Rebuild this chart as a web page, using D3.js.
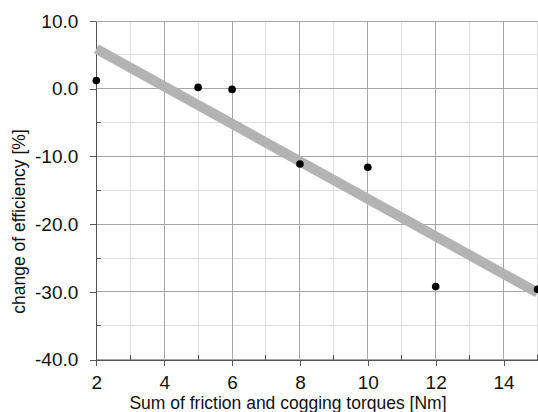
<!DOCTYPE html>
<html><head><meta charset="utf-8">
<script src="https://cdn.jsdelivr.net/npm/d3@7"></script>
<style>body{margin:0;background:#fff}svg{display:block}text{font-family:"Liberation Sans",Arial,sans-serif;fill:#111}</style>
</head><body><svg id="c" width="538" height="412"></svg>
<script>
const torque = [2, 5, 6, 8, 10, 12, 15];
const effChange = [1.2, 0.2, -0.1, -11.1, -11.6, -29.2, -29.6];
const trendX = [2, 15];
const trendY = [5.9, -30.1];
const xTicks = [2, 4, 6, 8, 10, 12, 14];
const xMinor = [3, 5, 7, 9, 11, 13, 15];
const yTicks = [10, 0, -10, -20, -30, -40];
const yMinor = [5, -5, -15, -25, -35];
const xTitle = "Sum of friction and cogging torques [Nm]";
const yTitle = "change of efficiency [%]";

const svg = d3.select("#c");
const L = 96.3, R = 537.5, T = 21, B = 359.7;
const x = d3.scaleLinear().domain([2, 15]).range([L, R]);
const y = d3.scaleLinear().domain([-40, 10]).range([B, T]);

const g = svg.append("g");
// minor grid
g.selectAll(".xm").data(xMinor).join("line")
  .attr("x1", d => x(d)).attr("x2", d => x(d)).attr("y1", T).attr("y2", B)
  .attr("stroke", "#dedede").attr("shape-rendering", "crispEdges");
g.selectAll(".ym").data(yMinor).join("line")
  .attr("x1", L).attr("x2", R).attr("y1", d => y(d)).attr("y2", d => y(d))
  .attr("stroke", "#dedede").attr("shape-rendering", "crispEdges");
// major grid
g.selectAll(".xg").data(xTicks).join("line")
  .attr("x1", d => x(d)).attr("x2", d => x(d)).attr("y1", T).attr("y2", B)
  .attr("stroke", "#a6a6a6").attr("shape-rendering", "crispEdges");
g.selectAll(".yg").data(yTicks).join("line")
  .attr("x1", L).attr("x2", R).attr("y1", d => y(d)).attr("y2", d => y(d))
  .attr("stroke", "#a6a6a6").attr("shape-rendering", "crispEdges");

// axes
const fmtY = d => d3.format(".1f")(d).replace("\u2212", "-");
const xAxis = d3.axisBottom(x).tickValues(xTicks).tickSize(6).tickSizeOuter(0).tickPadding(10).tickFormat(d3.format("d"));
const xa = svg.append("g").attr("transform", `translate(0,${B})`).call(xAxis);
const yAxis = d3.axisLeft(y).tickValues(yTicks).tickSize(6).tickSizeOuter(0).tickPadding(12).tickFormat(fmtY);
const ya = svg.append("g").attr("transform", `translate(${L},0)`).call(yAxis);
[xa, ya].forEach(a => {
  a.select(".domain").attr("stroke", "#555").attr("shape-rendering", "crispEdges");
  a.selectAll(".tick line").attr("stroke", "#555").attr("shape-rendering", "crispEdges");
  a.selectAll(".tick text").attr("font-size", 19).attr("fill", "#111")
    .attr("font-family", '"Liberation Sans",Arial,sans-serif');
});
// minor ticks inward
svg.append("g").selectAll("line").data(xMinor).join("line")
  .attr("x1", d => x(d)).attr("x2", d => x(d)).attr("y1", B).attr("y2", B - 5)
  .attr("stroke", "#555").attr("shape-rendering", "crispEdges");
svg.append("g").selectAll("line").data(yMinor).join("line")
  .attr("x1", L).attr("x2", L + 5).attr("y1", d => y(d)).attr("y2", d => y(d))
  .attr("stroke", "#555").attr("shape-rendering", "crispEdges");

// trend line
svg.append("path")
  .datum(trendX.map((d, i) => [d, trendY[i]]))
  .attr("d", d3.line().x(d => x(d[0])).y(d => y(d[1])))
  .attr("stroke", "#b3b3b3").attr("stroke-width", 10).attr("fill", "none");

// points
svg.append("g").selectAll("circle").data(torque).join("circle")
  .attr("cx", d => x(d)).attr("cy", (d, i) => y(effChange[i])).attr("r", 3.8).attr("fill", "#000");

// titles
svg.append("text").attr("x", 288).attr("y", 409).attr("text-anchor", "middle")
  .attr("font-size", 17.5).text(xTitle);
svg.append("text").attr("transform", "translate(25,221.5) rotate(-90)").attr("text-anchor", "middle")
  .attr("font-size", 17.5).text(yTitle);
</script></body></html>
